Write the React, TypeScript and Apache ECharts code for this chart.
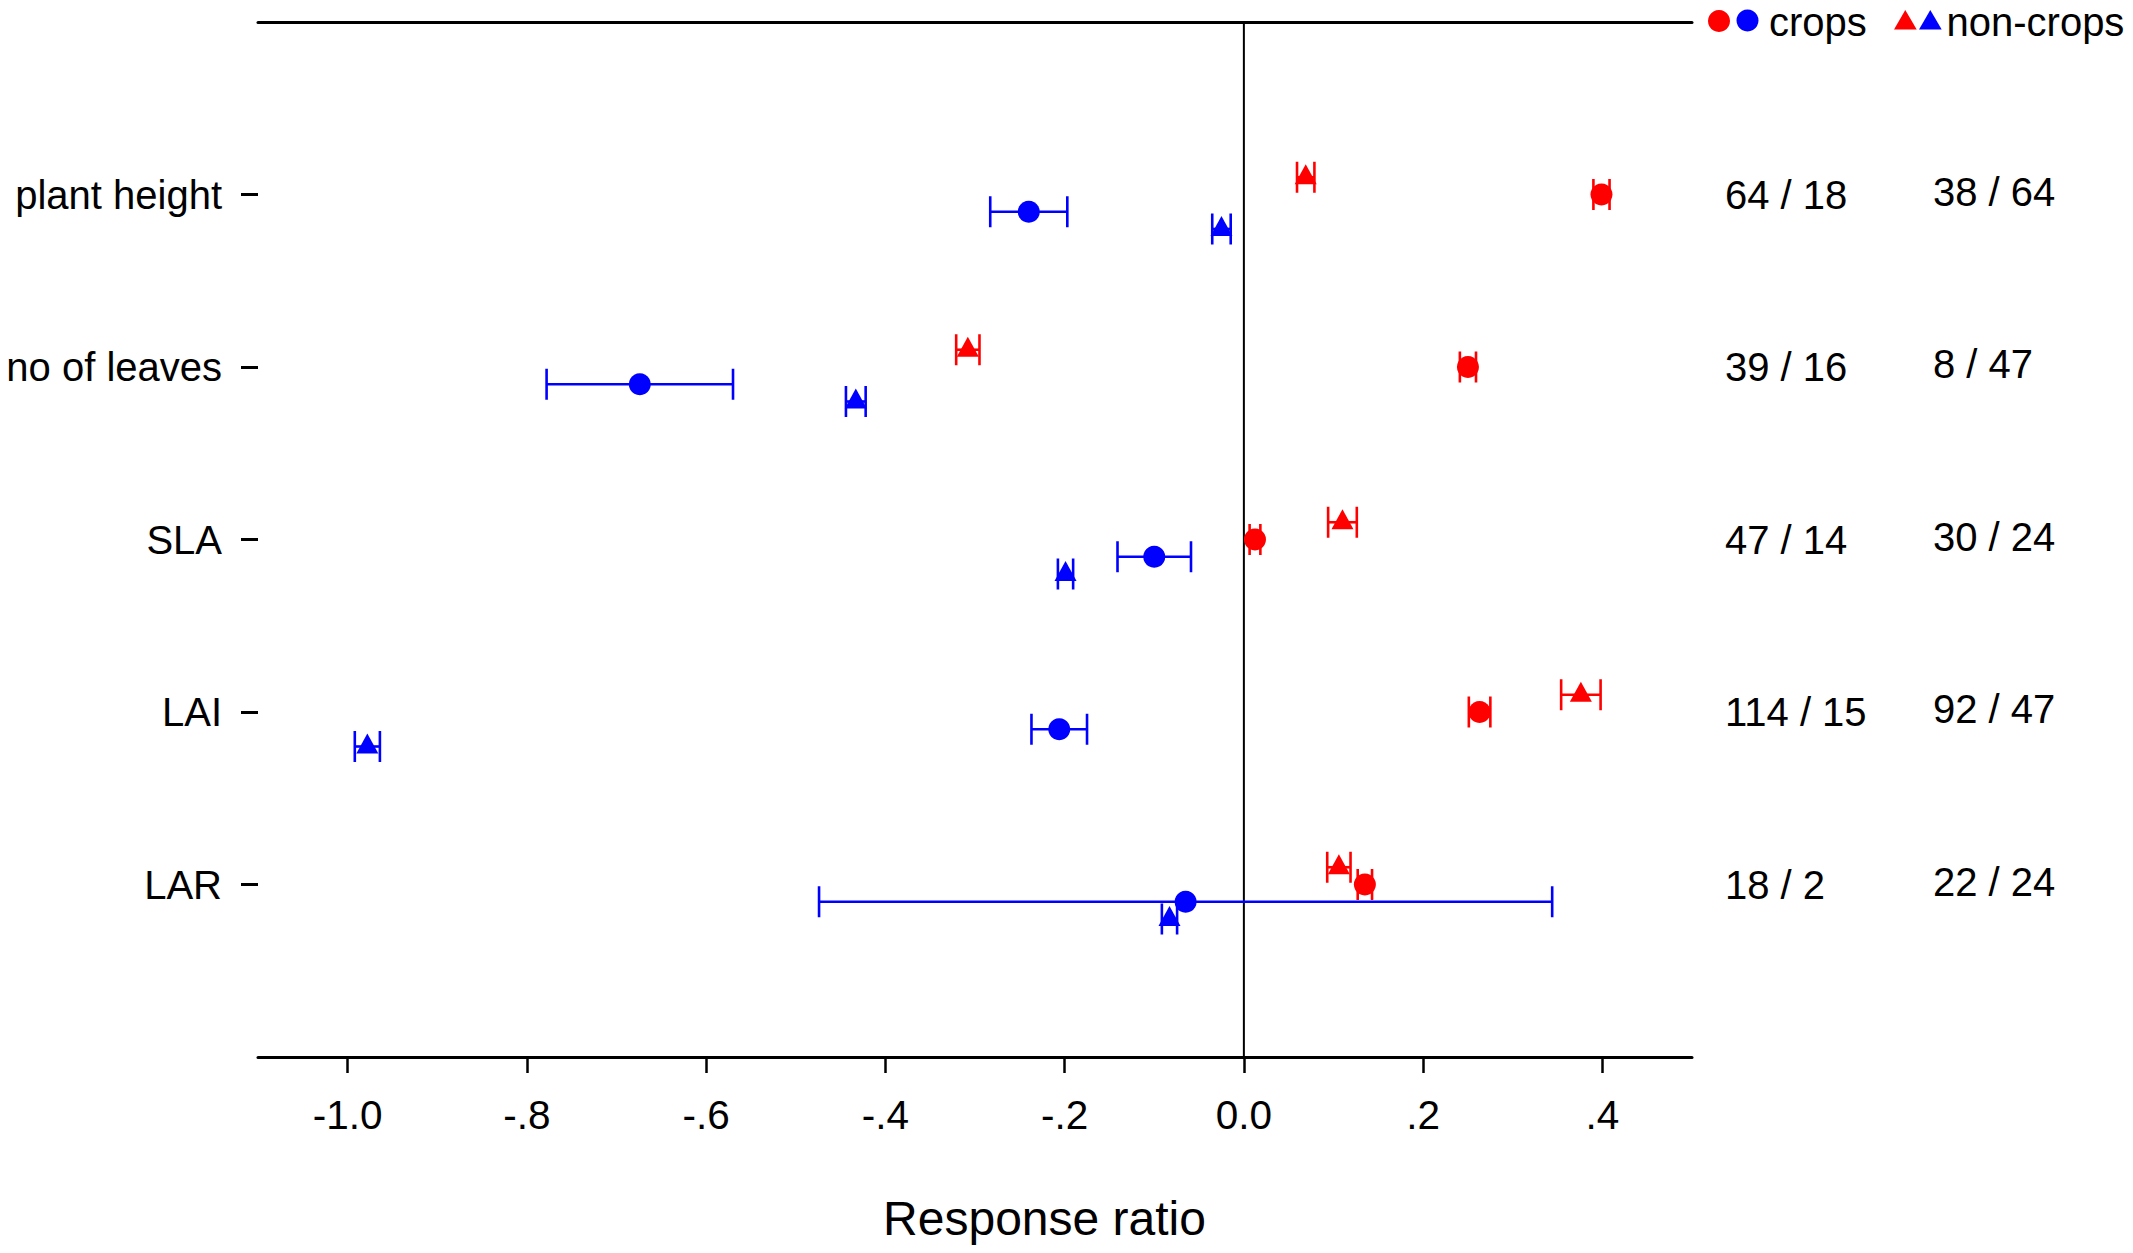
import React, { useEffect, useRef } from "react";
import * as echarts from "echarts";

// ---- data ----
const categories = ["plant height", "no of leaves", "SLA", "LAI", "LAR"];
const catPositions = [1, 2, 3, 4, 5];

const cropsRed = [0.399, 0.25, 0.0124, 0.263, 0.135];
const cropsRedErr = [0.009, 0.009, 0.006, 0.012, 0.008];
const cropsBlue = [-0.24, -0.674, -0.1, -0.206, -0.065];
const cropsBlueErr = [0.043, 0.104, 0.041, 0.031, 0.409];
const nonCropsRed = [0.069, -0.308, 0.11, 0.376, 0.106];
const nonCropsRedErr = [0.0097, 0.013, 0.016, 0.022, 0.013];
const nonCropsBlue = [-0.025, -0.433, -0.199, -0.978, -0.083];
const nonCropsBlueErr = [0.0103, 0.011, 0.0085, 0.014, 0.0085];

const countsCrops = ["64 / 18", "39 / 16", "47 / 14", "114 / 15", "18 / 2"];
const countsNonCrops = ["38 / 64", "8 / 47", "30 / 24", "92 / 47", "22 / 24"];

const tickValues = [-1.0, -0.8, -0.6, -0.4, -0.2, 0.0, 0.2, 0.4];
const tickLabels = ["-1.0", "-.8", "-.6", "-.4", "-.2", "0.0", ".2", ".4"];

const RED = "#ff0000";
const BLUE = "#0000ff";
const FONT = "'Liberation Sans', Arial, Helvetica, sans-serif";

function points(values: number[], errs: number[], offset: number) {
  return values.map((v, i) => [v, catPositions[i] + offset, errs[i]]);
}

function errorSeries(name: string, data: number[][], color: string) {
  return {
    type: "custom",
    name,
    data,
    z: 3,
    silent: true,
    renderItem: (params: any, api: any) => {
      const x = api.value(0);
      const y = api.value(1);
      const e = api.value(2);
      const p1 = api.coord([x - e, y]);
      const p2 = api.coord([x + e, y]);
      const h = 15.5;
      const style = { stroke: color, lineWidth: 2.6, fill: "none" };
      return {
        type: "group",
        children: [
          { type: "line", shape: { x1: p1[0], y1: p1[1], x2: p2[0], y2: p2[1] }, style },
          { type: "line", shape: { x1: p1[0], y1: p1[1] - h, x2: p1[0], y2: p1[1] + h }, style },
          { type: "line", shape: { x1: p2[0], y1: p2[1] - h, x2: p2[0], y2: p2[1] + h }, style },
        ],
      };
    },
  };
}

function scatterSeries(name: string, data: number[][], color: string, triangle: boolean) {
  return {
    type: "scatter",
    name,
    data: data.map((d) => [d[0], d[1]]),
    z: 4,
    symbol: triangle ? "triangle" : "circle",
    symbolSize: triangle ? [22, 20] : 22,
    symbolOffset: triangle ? [0, -3] : [0, 0],
    itemStyle: { color, opacity: 1 },
    silent: true,
  };
}

function countSeries(name: string, texts: string[], xPix: number, dy: number) {
  return {
    type: "custom",
    name,
    data: catPositions.map((c) => [0, c]),
    silent: true,
    clip: false,
    renderItem: (params: any, api: any) => {
      const p = api.coord([0, api.value(1)]);
      return {
        type: "text",
        x: xPix,
        y: p[1] + dy,
        style: {
          text: texts[params.dataIndex],
          fontSize: 40,
          fontFamily: FONT,
          fill: "#000",
          align: "left",
          verticalAlign: "middle",
          textAlign: "left",
          textVerticalAlign: "middle",
        },
      };
    },
  };
}

export default function App() {
  const ref = useRef<HTMLDivElement>(null);

  useEffect(() => {
    if (!ref.current) return;
    const chart = echarts.init(ref.current, undefined, { renderer: "svg" });

    const cr = points(cropsRed, cropsRedErr, 0);
    const cb = points(cropsBlue, cropsBlueErr, 0.1);
    const nr = points(nonCropsRed, nonCropsRedErr, -0.1);
    const nb = points(nonCropsBlue, nonCropsBlueErr, 0.2);

    const option: any = {
      animation: false,
      backgroundColor: "#fff",
      textStyle: { fontFamily: FONT },
      grid: { left: 258, right: 441, top: 22, bottom: 196, containLabel: false },
      xAxis: [
        {
          type: "value",
          min: -1.1,
          max: 0.5,
          position: "bottom",
          axisLine: { show: true, onZero: false, lineStyle: { color: "#000", width: 3 } },
          axisTick: {
            show: true,
            length: 16,
            lineStyle: { color: "#000", width: 2.5 },
            customValues: tickValues,
          },
          axisLabel: {
            show: true,
            customValues: tickValues,
            fontSize: 40.5,
            color: "#000",
            fontFamily: FONT,
            margin: 37,
            formatter: (v: number) => {
              const i = tickValues.findIndex((t) => Math.abs(t - v) < 1e-6);
              return i >= 0 ? tickLabels[i] : "";
            },
          },
          splitLine: { show: false },
        },
        {
          type: "value",
          min: -1.1,
          max: 0.5,
          position: "top",
          axisLine: { show: true, onZero: false, lineStyle: { color: "#000", width: 3 } },
          axisTick: { show: false },
          axisLabel: { show: false },
          splitLine: { show: false },
        },
      ],
      yAxis: {
        type: "value",
        min: 0,
        max: 6,
        inverse: true,
        axisLine: { show: false, onZero: false },
        axisTick: {
          show: true,
          length: 17,
          lineStyle: { color: "#000", width: 3 },
          customValues: catPositions,
        },
        axisLabel: {
          show: true,
          customValues: catPositions,
          fontSize: 40,
          color: "#000",
          fontFamily: FONT,
          margin: 36,
          formatter: (v: number) => {
            const i = catPositions.indexOf(Math.round(v));
            return i >= 0 ? categories[i] : "";
          },
        },
        splitLine: { show: false },
      },
      series: [
        {
          type: "line",
          name: "zero",
          data: [
            [0, 0],
            [0, 6],
          ],
          symbol: "none",
          silent: true,
          z: 2,
          lineStyle: { color: "#000", width: 2 },
        },
        errorSeries("crops red err", cr, RED),
        errorSeries("crops blue err", cb, BLUE),
        errorSeries("non-crops red err", nr, RED),
        errorSeries("non-crops blue err", nb, BLUE),
        scatterSeries("crops (red)", cr, RED, false),
        scatterSeries("crops (blue)", cb, BLUE, false),
        scatterSeries("non-crops (red)", nr, RED, true),
        scatterSeries("non-crops (blue)", nb, BLUE, true),
        countSeries("counts crops", countsCrops, 1725, 0),
        countSeries("counts non-crops", countsNonCrops, 1933, -3),
      ],
      graphic: [
        { type: "circle", shape: { cx: 1719, cy: 21, r: 11 }, style: { fill: RED } },
        { type: "circle", shape: { cx: 1747.5, cy: 20.5, r: 11 }, style: { fill: BLUE } },
        {
          type: "text",
          x: 1769,
          y: 22,
          style: {
            text: "crops",
            fontSize: 40,
            fontFamily: FONT,
            fill: "#000",
            align: "left",
            verticalAlign: "middle",
            textAlign: "left",
            textVerticalAlign: "middle",
          },
        },
        {
          type: "polygon",
          shape: { points: [[1894, 29.5], [1916.7, 29.5], [1905.3, 10]] },
          style: { fill: RED },
        },
        {
          type: "polygon",
          shape: { points: [[1919, 29.5], [1941.7, 29.5], [1930.3, 10]] },
          style: { fill: BLUE },
        },
        {
          type: "text",
          x: 1946.5,
          y: 22,
          style: {
            text: "non-crops",
            fontSize: 40,
            fontFamily: FONT,
            fill: "#000",
            align: "left",
            verticalAlign: "middle",
            textAlign: "left",
            textVerticalAlign: "middle",
          },
        },
        {
          type: "text",
          x: 1044.5,
          y: 1218,
          style: {
            text: "Response ratio",
            fontSize: 48,
            fontFamily: FONT,
            fill: "#000",
            align: "center",
            verticalAlign: "middle",
            textAlign: "center",
            textVerticalAlign: "middle",
          },
        },
      ],
    };

    chart.setOption(option);
    return () => {
      chart.dispose();
    };
  }, []);

  return (
    <div
      ref={ref}
      style={{ position: "fixed", left: 0, top: 0, width: 2133, height: 1253, background: "#fff" }}
    />
  );
}
